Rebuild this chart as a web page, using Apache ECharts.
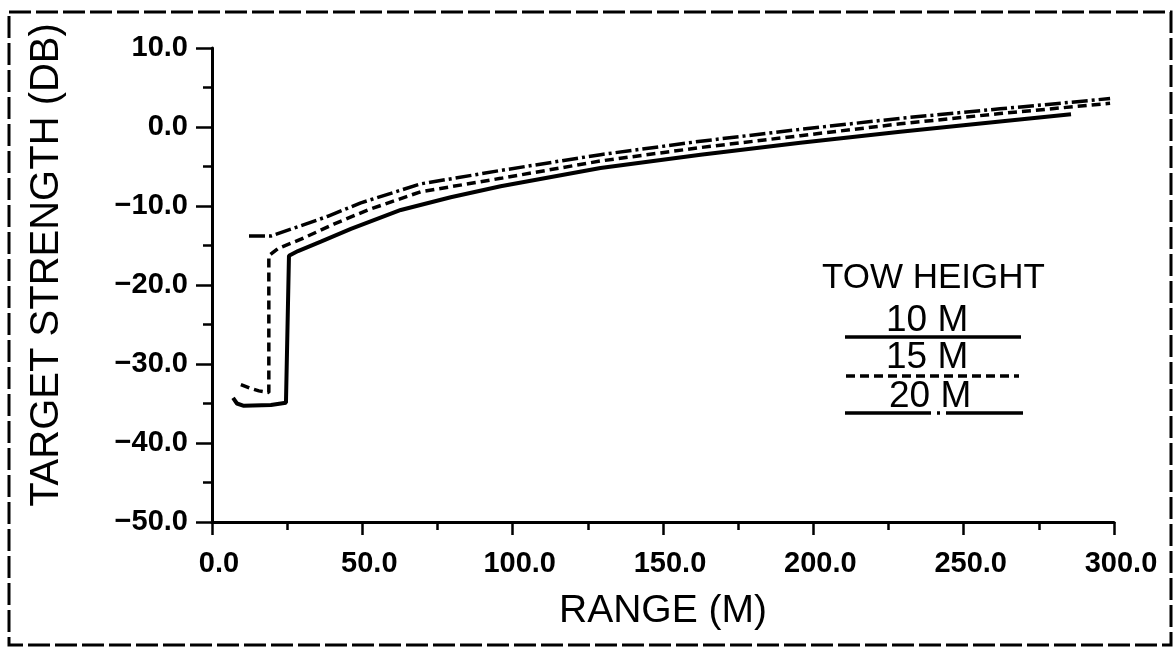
<!DOCTYPE html>
<html>
<head>
<meta charset="utf-8">
<title>Target strength vs range</title>
<script src="https://cdn.jsdelivr.net/npm/echarts@6/dist/echarts.min.js"></script>
<style>
  html, body { margin: 0; padding: 0; background: #fff; }
  #chart { width: 1176px; height: 651px; }
</style>
</head>
<body>
<div id="chart"></div>
<script>
// values, [range (m), target strength (dB)]
var tow10 = [
  [7.0, -34.3], [8.3, -35.0], [10.6, -35.3], [19.6, -35.2], [24.6, -34.9],
  [25.6, -16.3], [28.6, -15.7], [36.2, -14.5], [46.2, -12.9], [62.8, -10.5],
  [79.4, -8.9], [96.0, -7.5], [129.2, -5.2], [162.5, -3.5], [195.7, -2.0],
  [228.9, -0.6], [262.1, 0.7], [285.7, 1.6]
];
var tow15 = [
  [9.6, -32.6], [13.0, -33.1], [15.6, -33.4], [18.9, -33.6], [18.9, -16.3],
  [21.9, -15.4], [29.6, -14.2], [40.5, -12.3], [51.8, -10.5], [69.4, -8.2],
  [96.0, -6.5], [129.2, -4.3], [162.5, -2.6], [195.7, -1.1], [228.9, 0.4],
  [262.1, 1.7], [298.7, 3.0]
];
var tow20 = [
  [12.3, -13.8], [19.6, -13.8], [29.6, -12.5], [38.5, -11.3], [49.5, -9.6],
  [69.4, -7.2], [96.0, -5.5], [129.2, -3.5], [162.5, -1.8], [195.7, -0.3],
  [228.9, 1.1], [262.1, 2.3], [298.7, 3.6]
];
var legendNames = ['10 M', '15 M', '20 M'];
var legendTitle = 'TOW HEIGHT';

var ink = '#000';
var dashStyle = [9, 5];
var dashDotStyle = [16, 4, 3, 4];

var myChart = echarts.init(document.getElementById('chart'), null, { renderer: 'canvas' });

function tickLabel(v) {
  return v.toFixed(1).replace('-', '\u2212');
}

var option = {
  backgroundColor: '#fff',
  animation: false,
  grid: { left: 212, right: 62, top: 48, bottom: 129 },
  xAxis: {
    type: 'value',
    min: 0, max: 300, interval: 50,
    name: 'RANGE (M)',
    nameLocation: 'middle',
    nameGap: 70,
    nameTextStyle: { color: ink, fontFamily: 'Liberation Sans', fontSize: 39 },
    axisLine: { onZero: false, lineStyle: { color: ink, width: 3 } },
    axisTick: { length: 13, lineStyle: { color: ink, width: 2.5 } },
    minorTick: { show: true, splitNumber: 2, length: 8, lineStyle: { color: ink, width: 2.5 } },
    axisLabel: {
      color: ink, fontFamily: 'Liberation Sans', fontWeight: 'bold', fontSize: 29,
      margin: 27, padding: [0, 0, 0, 14], formatter: tickLabel
    },
    splitLine: { show: false }
  },
  yAxis: {
    type: 'value',
    min: -50, max: 10, interval: 10,
    name: 'TARGET STRENGTH (DB)',
    nameLocation: 'middle',
    nameRotate: 90,
    nameGap: 145,
    // shift the title a little upward like in the original
    nameTextStyle: { color: ink, fontFamily: 'Liberation Sans', fontSize: 40, padding: [0, 0, 0, 40] },
    axisLine: { onZero: false, lineStyle: { color: ink, width: 3 } },
    axisTick: { length: 16, lineStyle: { color: ink, width: 2.5 } },
    minorTick: { show: true, splitNumber: 2, length: 9, lineStyle: { color: ink, width: 2.5 } },
    axisLabel: { color: ink, fontFamily: 'Liberation Sans', fontWeight: 'bold', fontSize: 29, margin: 24, formatter: tickLabel },
    splitLine: { show: false }
  },
  series: [
    {
      name: legendNames[0], type: 'line', data: tow10,
      symbol: 'none', lineStyle: { color: ink, width: 4, type: 'solid' }
    },
    {
      name: legendNames[1], type: 'line', data: tow15,
      symbol: 'none', lineStyle: { color: ink, width: 3.5, type: dashStyle }
    },
    {
      name: legendNames[2], type: 'line', data: tow20,
      symbol: 'none', lineStyle: { color: ink, width: 3.5, type: dashDotStyle }
    }
  ],
  // hand drawn key like the original, text sits above each line sample
  graphic: [
    { type: 'text', left: 822, top: 261, style: { text: legendTitle, fill: ink, font: '35px "Liberation Sans"' } },
    { type: 'text', left: 886, top: 302, style: { text: legendNames[0], fill: ink, font: '37px "Liberation Sans"' } },
    { type: 'line', shape: { x1: 845, y1: 337, x2: 1021, y2: 337 }, style: { stroke: ink, lineWidth: 3.5 } },
    { type: 'text', left: 886, top: 339, style: { text: legendNames[1], fill: ink, font: '37px "Liberation Sans"' } },
    { type: 'line', shape: { x1: 846, y1: 376, x2: 1019, y2: 376 }, style: { stroke: ink, lineWidth: 3.5, lineDash: dashStyle } },
    { type: 'text', left: 889, top: 378, style: { text: legendNames[2], fill: ink, font: '37px "Liberation Sans"' } },
    { type: 'line', shape: { x1: 845, y1: 413, x2: 1023, y2: 413 }, style: { stroke: ink, lineWidth: 3.5, lineDash: [86, 6, 3, 6] } },
    // dashed frame of the scanned page
    { type: 'rect', shape: { x: 9, y: 12, width: 1162, height: 633 }, style: { fill: 'none', stroke: ink, lineWidth: 3, lineDash: [22, 5] } }
  ]
};

myChart.setOption(option);
</script>
</body>
</html>
